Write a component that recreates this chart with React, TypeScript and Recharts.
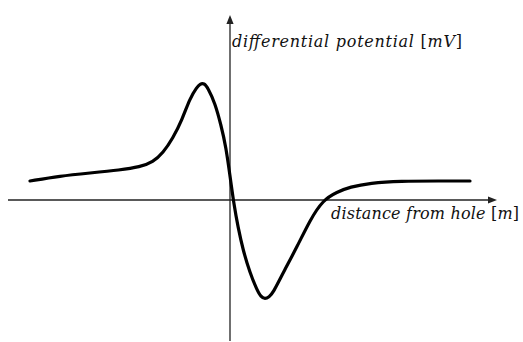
import React from "react";
import { LineChart, Line, XAxis, YAxis, ReferenceLine } from "recharts";

// distance from hole [m] and differential potential [mV] (arbitrary units)
const distance = [
  -20, -17, -14, -11, -9, -7.7, -6.7, -5.7, -4.8, -4, -3.3, -3, -2.6, -2.2, -1.5, -0.9, -0.4, 0,
  0.4, 0.8, 1.3, 2, 2.7, 3.1, 3.5, 3.9, 4.3, 5.3, 6.7, 8, 9.3, 10.7, 12, 14, 17, 21, 24,
];
const potential = [
  1.9, 2.4, 2.7, 3.0, 3.3, 3.8, 4.7, 6.2, 8.0, 10.2, 11.3, 11.6, 11.7, 11.2, 9.7, 7.5, 5.3, 2.4,
  -0.5, -2.7, -5.0, -7.3, -9.0, -9.7, -9.9, -9.7, -9.3, -7.3, -4.7, -2.0, 0, 0.8, 1.3, 1.7, 1.9,
  1.9, 1.9,
];

const xLabel = "distance from hole";
const xUnit = "m";
const yLabel = "differential potential";
const yUnit = "mV";

const data = distance.map((d, i) => ({ d, v: potential[i] }));

const labelFont = '"DejaVu Serif", serif';
const axisColor = "#222";

function arrowHead(x1: number, y1: number, x2: number, y2: number) {
  const len = Math.hypot(x2 - x1, y2 - y1) || 1;
  const ux = (x2 - x1) / len;
  const uy = (y2 - y1) / len;
  const l = 9;
  const w = 3.6;
  const bx = x2 - ux * l;
  const by = y2 - uy * l;
  return `${x2},${y2} ${bx - uy * w},${by + ux * w} ${bx + uy * w},${by - ux * w}`;
}

function UnitText({ x, y, label, unit, width }: any) {
  return (
    <text
      x={x}
      y={y}
      style={{ fontFamily: labelFont, fontSize: 16, fontStyle: "italic" }}
      fill="#111"
      textLength={width}
      lengthAdjust="spacing"
    >
      {label + " "}
      <tspan style={{ fontStyle: "normal" }}>[</tspan>
      {unit}
      <tspan style={{ fontStyle: "normal" }}>]</tspan>
    </text>
  );
}

const xAxisShape = (props: any) => {
  const { x1, y1, x2, y2 } = props;
  return (
    <g>
      <line x1={x1} y1={y1} x2={x2 - 4} y2={y2} stroke={axisColor} strokeWidth={1.3} />
      <polygon points={arrowHead(x1, y1, x2, y2)} fill={axisColor} />
      <UnitText x={x2 - 166} y={y2 + 19} label={xLabel} unit={xUnit} width={188} />
    </g>
  );
};

const yAxisShape = (props: any) => {
  // segment is given bottom -> top
  const { x1, y1, x2, y2 } = props;
  return (
    <g>
      <line x1={x1} y1={y1} x2={x2} y2={y2 + 4} stroke={axisColor} strokeWidth={1.3} />
      <polygon points={arrowHead(x1, y1, x2, y2)} fill={axisColor} />
      <UnitText x={x2 + 2} y={y2 + 32} label={yLabel} unit={yUnit} width={230} />
    </g>
  );
};

export default function App() {
  return (
    <div style={{ position: "absolute", left: 0, top: 0, background: "#fff" }}>
      <LineChart width={523} height={342} data={data} margin={{ top: 0, right: 0, bottom: 0, left: 0 }}>
        <XAxis dataKey="d" type="number" domain={[-23, 29.3]} allowDataOverflow hide />
        <YAxis type="number" domain={[-14.2, 20]} allowDataOverflow hide />
        <ReferenceLine
          segment={[
            { x: -22.2, y: 0 },
            { x: 26.7, y: 0 },
          ]}
          shape={xAxisShape}
          ifOverflow="visible"
        />
        <ReferenceLine
          segment={[
            { x: 0, y: -14.1 },
            { x: 0, y: 18.5 },
          ]}
          shape={yAxisShape}
          ifOverflow="visible"
        />
        <Line
          dataKey="v"
          type="basis"
          stroke="#000"
          strokeWidth={3.2}
          strokeLinecap="round"
          dot={false}
          activeDot={false}
          isAnimationActive={false}
        />
      </LineChart>
    </div>
  );
}
